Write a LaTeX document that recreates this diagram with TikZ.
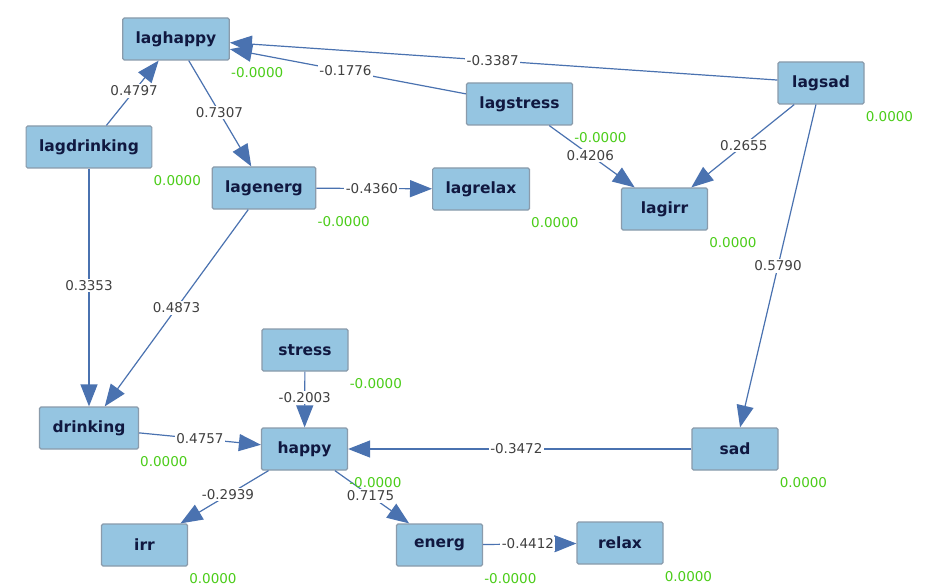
\documentclass[tikz,border=0pt]{standalone}
\usepackage{xcolor}
\usepackage{fontspec}
\setmainfont{DejaVu Sans}
\usetikzlibrary{arrows.meta}

\definecolor{boxblue}{RGB}{149,197,225}
\definecolor{boxline}{RGB}{138,155,171}
\definecolor{boxtext}{RGB}{16,24,64}
\definecolor{pathblue}{RGB}{74,114,176}
\definecolor{coefgray}{RGB}{64,64,64}
\definecolor{resgreen}{RGB}{75,205,25}

\begin{document}
\begin{tikzpicture}[x=1pt,y=-1pt,
    var/.style={draw=boxline, line width=1.2pt, fill=boxblue, rounded corners=1.5pt,
      minimum width=86pt, minimum height=42pt, inner xsep=13pt,
      text=boxtext, font=\bfseries\fontsize{15.5}{17}\selectfont},
    link/.style={draw=pathblue, line width=1.2pt, -{Triangle[length=22pt,width=17pt]}},
    coef/.style={fill=white, text=coefgray, inner sep=1.5pt, font=\fontsize{13.5}{15}\selectfont},
    resid/.style={anchor=west, yshift=-12pt, inner sep=1pt, text=resgreen,
      font=\fontsize{13.5}{15}\selectfont}]
             \useasboundingbox[fill=white] (0,0) rectangle (925,588);

             % lagged variables
             \node[var] (laghappy) at (176,39) {laghappy};
             \node[var] (lagdrinking) at (89,147) {lagdrinking};
             \node[var] (lagenerg) at (264,188) {lagenerg};
             \node[var] (lagrelax) at (481,189) {lagrelax};
             \node[var] (lagstress) at (519.5,104) {lagstress};
             \node[var] (lagsad) at (821,83) {lagsad};
             \node[var] (lagirr) at (664.5,209) {lagirr};

             % current variables
             \node[var] (stress) at (305,350) {stress};
             \node[var] (drinking) at (89,428) {drinking};
             \node[var] (happy) at (304.5,449) {happy};
             \node[var] (sad) at (735,449) {sad};
             \node[var] (irr) at (144.5,545) {irr};
             \node[var] (energ) at (439.5,545) {energ};
             \node[var] (relax) at (620,543) {relax};

             % paths
             \draw[link] (lagdrinking) -- node[coef, pos=.53] (c1) {0.4797} (laghappy);
             \draw[link] (laghappy) -- node[coef, pos=.49] (c2) {0.7307} (lagenerg);
             \draw[link] (lagenerg) -- node[coef, pos=.48] (c3) {-0.4360} (lagrelax);
             \draw[link] (lagsad) -- node[coef, pos=.52] (c4) {-0.3387} (laghappy);
             \draw[link] (lagstress) -- node[coef, pos=.51] (c5) {-0.1776} (laghappy);
             \draw[link] (lagstress) -- node[coef, pos=.48] (c6) {0.4206} (lagirr);
             \draw[link] (lagsad) -- node[coef, pos=.49] (c7) {0.2655} (lagirr);
             \draw[link] (lagsad) -- node[coef] (c8) {0.5790} (sad);
             \draw[link] (lagdrinking) -- node[coef, pos=.49] (c9) {0.3353} (drinking);
             \draw[link] (lagenerg) -- node[coef] (c10) {0.4873} (drinking);
             \draw[link] (drinking) -- node[coef] (c11) {0.4757} (happy);
             \draw[link] (stress) -- node[coef, pos=.47] (c12) {-0.2003} (happy);
             \draw[link] (sad) -- node[coef, pos=.51] (c13) {-0.3472} (happy);
             \draw[link] (happy) -- node[coef, pos=.46] (c14) {-0.2939} (irr);
             \draw[link] (happy) -- node[coef, pos=.48] (c15) {0.7175} (energ);
             \draw[link] (energ) -- node[coef, pos=.48] (c16) {-0.4412} (relax);

             % residuals
             \node[resid] (r1) at (laghappy.south east) {-0.0000};
             \node[resid] (r2) at (lagdrinking.south east) {0.0000};
             \node[resid] (r3) at (lagenerg.south east) {-0.0000};
             \node[resid] (r4) at (lagrelax.south east) {0.0000};
             \node[resid] (r5) at (lagstress.south east) {-0.0000};
             \node[resid] (r6) at (lagsad.south east) {0.0000};
             \node[resid] (r7) at (lagirr.south east) {0.0000};
             \node[resid] (r8) at (stress.south east) {-0.0000};
             \node[resid] (r9) at (drinking.south east) {0.0000};
             \node[resid] (r10) at (happy.south east) {-0.0000};
             \node[resid] (r11) at (sad.south east) {0.0000};
             \node[resid] (r12) at (irr.south east) {0.0000};
             \node[resid] (r13) at (energ.south east) {-0.0000};
             \node[resid] (r14) at (relax.south east) {0.0000};
             \end{tikzpicture}
\end{document}
